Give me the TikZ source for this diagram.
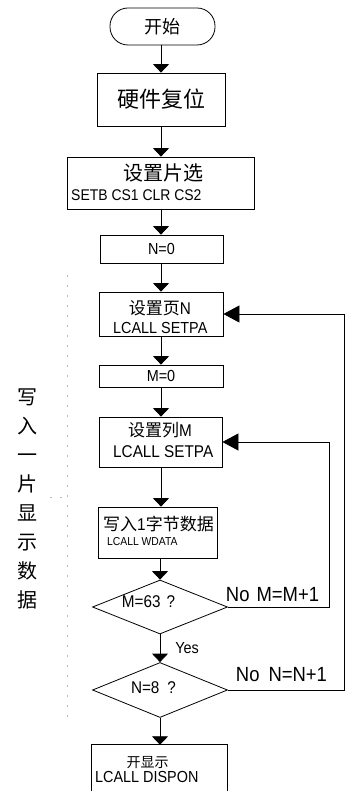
\documentclass[tikz,border=0pt]{standalone}
\usepackage{fontspec}
\setmainfont{Liberation Sans}[FakeStretch=0.9]
\newfontfamily\cjk{Noto Sans CJK SC}
\usetikzlibrary{arrows.meta,shapes.geometric}
\newcommand\fsz[1]{\fontsize{#1}{#1}\selectfont}
\begin{document}
\begin{tikzpicture}[x=1pt,y=-1pt,
  box/.style={draw,line width=0.8pt,inner sep=0pt},
  txt/.style={inner sep=0pt},
  varr/.style={line width=0.8pt,-{Triangle[width=16pt,length=8.5pt]}},
  harr/.style={line width=0.8pt,-{Triangle[width=17pt,length=16pt]}},
  lnk/.style={line width=0.8pt},
  faint/.style={gray!55,line width=0.6pt,dash pattern=on 2pt off 8pt}]
\useasboundingbox (0,0) rectangle (346,791);
\coordinate (ax) at (161,0);
\coordinate (r1) at (329,0);
\coordinate (r2) at (344.5,0);
% boxes
\node[box,rounded corners=18pt,minimum width=105pt,minimum height=37pt] (start) at (162.5,26.5) {\cjk\fsz{18}开始};
\node[box,minimum width=128pt,minimum height=53pt] (reset) at (161,99.5) {\cjk\fsz{22}硬件复位};
\node[box,minimum width=187pt,minimum height=52pt] (cs) at (160.5,183) {};
\node[txt] (cs1) at (163,173) {\cjk\fsz{20}设置片选};
\node[txt,anchor=west] (cs2) at (71,195) {\fsz{15.5}SETB CS1 CLR CS2};
\node[box,minimum width=123pt,minimum height=28pt] (n0) at (161.5,249) {\fsz{16}N=0};
\node[box,minimum width=124pt,minimum height=44pt] (page) at (161,314) {};
\node[txt] (page1) at (160,308) {\fsz{17}{\cjk 设置页}N};
\node[txt,anchor=west] (page2) at (113,328) {\fsz{16}LCALL SETPA};
\node[box,minimum width=124pt,minimum height=22pt] (m0) at (161,376) {\fsz{16}M=0};
\node[box,minimum width=123pt,minimum height=50pt] (col) at (160.5,442) {};
\node[txt] (col1) at (160,430) {\fsz{17}{\cjk 设置列}M};
\node[txt,anchor=west] (col2) at (113,452) {\fsz{17}LCALL SETPA};
\node[box,minimum width=119pt,minimum height=51pt] (wr) at (157.5,532.5) {};
\node[txt] (wr1) at (158.5,524) {\fsz{17}{\cjk 写入}1{\cjk 字节数据}};
\node[txt,anchor=west] (wr2) at (107,542) {\fsz{11.5}LCALL WDATA};
\node[box,shape=diamond,minimum width=135pt,minimum height=54pt] (d1) at (160,607) {};
\node[txt] (d1t) at (148.5,602) {\fsz{17}M=63\hspace{6pt}?};
\node[box,shape=diamond,minimum width=135pt,minimum height=55pt] (d2) at (160,690) {};
\node[txt] (d2t) at (153.5,688) {\fsz{17}N=8\hspace{8pt}?};
\node[inner sep=0pt,minimum width=135pt,minimum height=46pt] (disp) at (159.5,768) {};
\draw[lnk] (disp.south west) -- (disp.north west) -- (disp.north east) -- (disp.south east);
\node[txt] (disp1) at (147.5,763) {\cjk\fsz{14}开显示};
\node[txt,anchor=west] (disp2) at (95,777) {\fsz{16}LCALL DISPON};
% side label
\node[txt,align=center,font=\cjk\fontsize{20}{29}\selectfont] (side) at (27.5,498.5) {写\\入\\一\\片\\显\\示\\数\\据};
\draw[faint] (67,275) -- (67,720);
\draw[faint] (50,497) -- (67,497);
% arrows
\draw[varr] (start.south -| ax) -- (reset.north -| ax);
\draw[varr] (reset.south -| ax) -- (cs.north -| ax);
\draw[varr] (cs.south -| ax) -- (n0.north -| ax);
\draw[varr] (n0.south -| ax) -- (page.north -| ax);
\draw[varr] (page.south -| ax) -- (m0.north -| ax);
\draw[varr] (m0.south -| ax) -- (col.north -| ax);
\draw[varr] (col.south -| ax) -- (wr.north -| ax);
\draw[varr] (wr.south -| d1) -- (d1.north);
\draw[varr] (d1.south) -- (d2.north);
\node[txt] (yes) at (187,648) {\fsz{16}Yes};
\draw[varr] (d2.south) -- (disp.north -| d2);
\draw[harr] (d1.east) -| (r1 |- col.east) -- (col.east);
\node[txt] (nom) at (272.5,595) {\fsz{20.5}No\hspace{7pt}M=M+1};
\draw[harr] (d2.east) -| (r2 |- page.east) -- (page.east);
\node[txt] (non) at (281.5,675) {\fsz{20.5}No\hspace{9pt}N=N+1};
\end{tikzpicture}
\end{document}
